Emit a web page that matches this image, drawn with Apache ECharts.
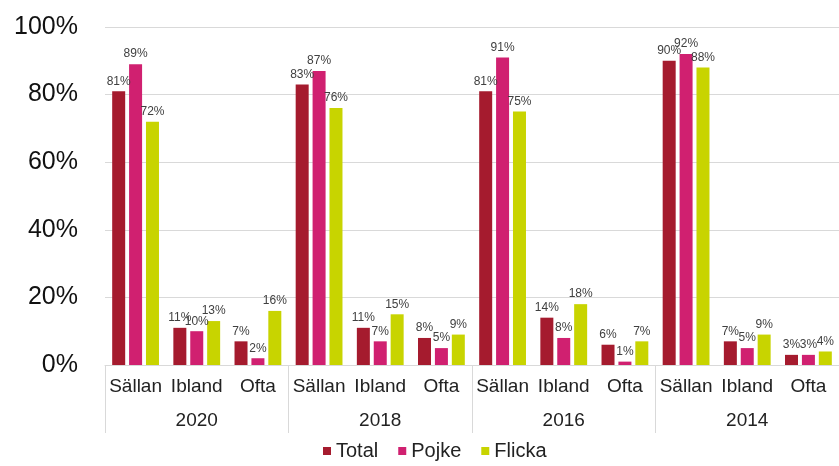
<!DOCTYPE html>
<html>
<head>
<meta charset="utf-8">
<script src="https://cdn.jsdelivr.net/npm/echarts@6/dist/echarts.min.js"></script>
<style>
  html, body { margin: 0; padding: 0; background: #fff; }
  #chart { width: 839px; height: 466px; }
</style>
</head>
<body>
<div id="chart"></div>
<script>
const years = ['2020', '2018', '2016', '2014'];
const answers = ['Sällan', 'Ibland', 'Ofta'];
const yTicks = [0, 20, 40, 60, 80, 100];

// per year: Sällan, Ibland, Ofta
const total  = [81, 11, 7,  83, 11, 8,  81, 14, 6,  90, 7, 3];
const pojke  = [89, 10, 2,  87, 7, 5,   91, 8, 1,   92, 5, 3];
const flicka = [72, 13, 16, 76, 15, 9,  75, 18, 7,  88, 9, 4];

const colors = ['#A51B2E', '#D02070', '#C8D400'];
const font = 'Liberation Sans, Arial, sans-serif';

let cats = [];
years.forEach(y => answers.forEach(a => cats.push(a)));

function barSeries(name, data, color) {
    return {
        name: name,
        type: 'bar',
        xAxisIndex: 0,
        data: data,
        barWidth: 13,
        barGap: '30%',
        itemStyle: { color: color },
        label: {
            show: true,
            position: 'top',
            distance: 4,
            formatter: p => p.value + '%',
            fontSize: 12,
            color: '#404040',
            fontFamily: font
        }
    };
}

let chart = echarts.init(document.getElementById('chart'));
chart.setOption({
    animation: false,
    grid: { left: 105, top: 27, width: 741, height: 338, containLabel: false },
    legend: {
        bottom: 0,
        left: 318,
        itemWidth: 8,
        itemHeight: 8,
        itemGap: 20,
        icon: 'rect',
        textStyle: { fontSize: 20, color: '#222', fontFamily: font },
        data: ['Total', 'Pojke', 'Flicka']
    },
    xAxis: [
        {
            type: 'category',
            data: cats,
            axisLine: { lineStyle: { color: '#d9d9d9', width: 1 } },
            axisTick: { show: false },
            axisLabel: { interval: 0, margin: 12, fontSize: 19, color: '#222', fontFamily: font }
        },
        {
            type: 'category',
            position: 'bottom',
            data: years,
            axisLine: { show: false },
            axisTick: { show: true, length: 68, lineStyle: { color: '#d9d9d9' } },
            axisLabel: { interval: 0, margin: 46, fontSize: 19, color: '#222', fontFamily: font },
            splitLine: { show: false }
        }
    ],
    yAxis: {
        type: 'value',
        min: 0,
        max: 100,
        interval: 20,
        axisLine: { show: false },
        axisTick: { show: false },
        splitLine: { lineStyle: { color: '#d9d9d9', width: 1 } },
        axisLabel: {
            margin: 27,
            fontSize: 25,
            color: '#111',
            fontFamily: font,
            formatter: v => yTicks.includes(v) ? v + '%' : ''
        }
    },
    series: [
        barSeries('Total', total, colors[0]),
        barSeries('Pojke', pojke, colors[1]),
        barSeries('Flicka', flicka, colors[2])
    ]
});
</script>
</body>
</html>
